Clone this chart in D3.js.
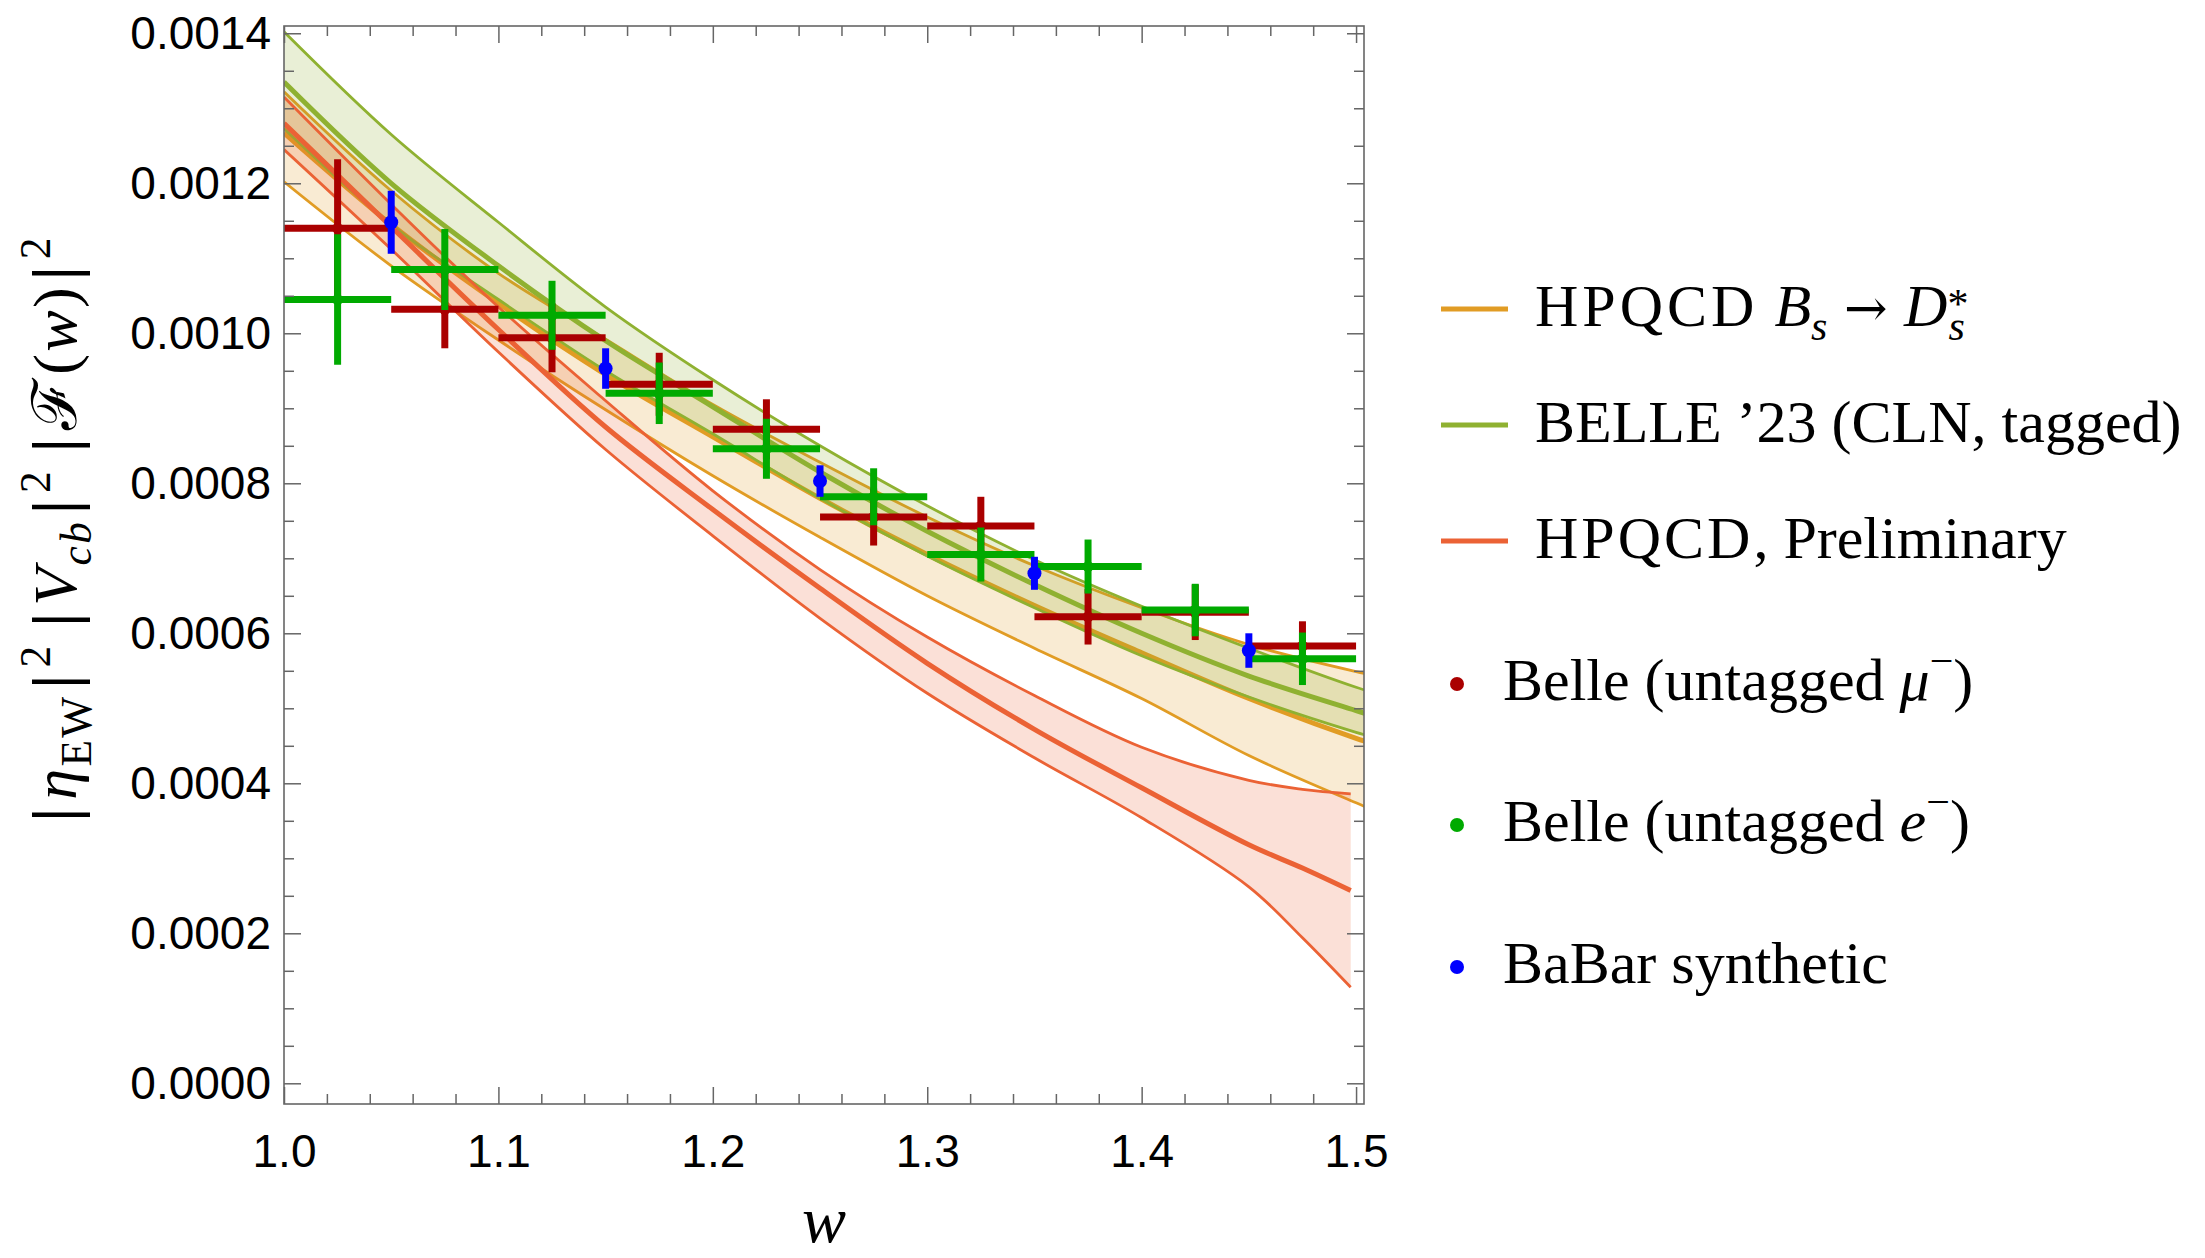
<!DOCTYPE html>
<html>
<head>
<meta charset="utf-8">
<script src="https://cdn.jsdelivr.net/npm/d3@7"></script>
<style>
  body { margin: 0; background: #fff; }
  svg { display: block; }
</style>
</head>
<body>
<div id="chart"></div>
<script>
// ---- band grids (w) and values ----
const bandW = [1.0, 1.05, 1.1, 1.15, 1.2, 1.25, 1.3, 1.35, 1.4, 1.45, 1.5, 1.51]

// HPQCD Bs -> Ds*
const hpqcdHi  = [0.001322, 0.001190, 0.001080, 0.000992, 0.000905, 0.000828, 0.000755, 0.000690, 0.000634, 0.000585, 0.000549, 0.000543]
const hpqcdMid = [0.001267, 0.001145, 0.001040, 0.000945, 0.000862, 0.000780, 0.000705, 0.000637, 0.000574, 0.000513, 0.000460, 0.000451]
const hpqcdLo  = [0.001202, 0.001090, 0.000991, 0.000898, 0.000810, 0.000728, 0.000650, 0.000580, 0.000513, 0.000437, 0.000374, 0.000362]

// BELLE '23 (CLN, tagged)
const belleHi  = [0.001402, 0.001265, 0.001148, 0.001035, 0.000938, 0.000850, 0.000770, 0.000698, 0.000636, 0.000580, 0.000528, 0.000519]
const belleMid = [0.001335, 0.001200, 0.001090, 0.000990, 0.000902, 0.000815, 0.000736, 0.000665, 0.000600, 0.000543, 0.000497, 0.000488]
const belleLo  = [0.001273, 0.001145, 0.001045, 0.000950, 0.000866, 0.000780, 0.000703, 0.000634, 0.000570, 0.000515, 0.000468, 0.000460]

// HPQCD, Preliminary
const prelimW   = [1.0, 1.05, 1.1, 1.15, 1.2, 1.25, 1.3, 1.35, 1.4, 1.45, 1.475, 1.4975]
const prelimHi  = [0.001315, 0.001172, 0.001035, 0.000910, 0.000790, 0.000685, 0.000595, 0.000517, 0.000448, 0.000404, 0.000392, 0.000386]
const prelimMid = [0.001280, 0.001142, 0.001005, 0.000875, 0.000765, 0.000660, 0.000560, 0.000472, 0.000394, 0.000318, 0.000287, 0.000257]
const prelimLo  = [0.001245, 0.001112, 0.000975, 0.000845, 0.000730, 0.000620, 0.000520, 0.000434, 0.000354, 0.000262, 0.000194, 0.000128]

// data points: bin centre, value, error
const muW   = [1.025, 1.075, 1.125, 1.175, 1.225, 1.275, 1.325, 1.375, 1.425, 1.475]
const muV   = [0.001140, 0.001032, 0.000994, 0.000932, 0.000872, 0.000755, 0.000743, 0.000622, 0.000628, 0.000583]
const muErr = [0.000092, 0.000052, 0.000046, 0.000042, 0.000040, 0.000038, 0.000039, 0.000037, 0.000037, 0.000033]

const eW   = [1.025, 1.075, 1.125, 1.175, 1.225, 1.275, 1.325, 1.375, 1.425, 1.475]
const eV   = [0.001045, 0.001085, 0.001024, 0.000920, 0.000846, 0.000782, 0.000705, 0.000689, 0.000631, 0.000566]
const eErr = [0.000087, 0.000054, 0.000046, 0.000041, 0.000040, 0.000038, 0.000036, 0.000036, 0.000035, 0.000035]

const babarW   = [1.05, 1.15, 1.25, 1.35, 1.45]
const babarV   = [0.001148, 0.000953, 0.000803, 0.000680, 0.000577]
const babarErr = [0.000042, 0.000027, 0.000021, 0.000022, 0.000023]

const BIN_HALF = 0.025

// ticks
const yMajor = [0, 0.0002, 0.0004, 0.0006, 0.0008, 0.0010, 0.0012, 0.0014]
const yTickLabels = ["0.0000", "0.0002", "0.0004", "0.0006", "0.0008", "0.0010", "0.0012", "0.0014"]
const xMajor = [1.0, 1.1, 1.2, 1.3, 1.4, 1.5]
const xTickLabels = ["1.0", "1.1", "1.2", "1.3", "1.4", "1.5"]

const COLORS = {hpqcd: "#E19C24", belle: "#8FB131", prelim: "#EB6235",
                mu: "#AA0000", e: "#00AA00", babar: "#0000FF"}

const WIDTH = 2205
const HEIGHT = 1258
const PLOT = {LEFT: 284, RIGHT: 1364, TOP: 26, BOTTOM: 1104}

const svg = d3.select("#chart")
  .append("svg")
  .attr("width", WIDTH)
  .attr("height", HEIGHT)
  .style("background", "#fff")

const x = d3.scaleLinear().domain([1.0, 1.5037]).range([PLOT.LEFT, PLOT.RIGHT])
const y = d3.scaleLinear().domain([-0.0000276, 0.0014097]).range([PLOT.BOTTOM, PLOT.TOP])

svg.append("clipPath").attr("id", "clip")
  .append("rect")
  .attr("x", PLOT.LEFT).attr("y", PLOT.TOP)
  .attr("width", PLOT.RIGHT - PLOT.LEFT)
  .attr("height", PLOT.BOTTOM - PLOT.TOP)

const plot = svg.append("g").attr("clip-path", "url(#clip)")

// bands: fill + 3 lines
function drawBand(ws, lo, mid, hi, color) {
  const pts = ws.map((w, i) => ({w: w, lo: lo[i], mid: mid[i], hi: hi[i]}))
  const area = d3.area()
    .x(d => x(d.w)).y0(d => y(d.lo)).y1(d => y(d.hi))
    .curve(d3.curveCatmullRom)
  plot.append("path").datum(pts)
    .attr("d", area)
    .attr("fill", color)
    .attr("fill-opacity", 0.2)
  const line = key => d3.line().x(d => x(d.w)).y(d => y(d[key])).curve(d3.curveCatmullRom)
  ;[["hi", 2.8], ["lo", 2.8], ["mid", 5]].forEach(([key, sw]) => {
    plot.append("path").datum(pts)
      .attr("d", line(key))
      .attr("fill", "none")
      .attr("stroke", color)
      .attr("stroke-width", sw)
  })
}

drawBand(bandW, hpqcdLo, hpqcdMid, hpqcdHi, COLORS.hpqcd)
drawBand(bandW, belleLo, belleMid, belleHi, COLORS.belle)
drawBand(prelimW, prelimLo, prelimMid, prelimHi, COLORS.prelim)

// error bar points
function drawPoints(ws, vs, errs, color, withBins, r) {
  const pts = ws.map((w, i) => ({w: w, v: vs[i], e: errs[i]}))
  const g = plot.append("g")
  if (withBins) {
    g.selectAll(".hbar").data(pts).enter().append("line")
      .attr("x1", d => x(d.w - BIN_HALF)).attr("x2", d => x(d.w + BIN_HALF))
      .attr("y1", d => y(d.v)).attr("y2", d => y(d.v))
      .attr("stroke", color).attr("stroke-width", 7)
  }
  g.selectAll(".vbar").data(pts).enter().append("line")
    .attr("x1", d => x(d.w)).attr("x2", d => x(d.w))
    .attr("y1", d => y(d.v - d.e)).attr("y2", d => y(d.v + d.e))
    .attr("stroke", color).attr("stroke-width", 7)
  g.selectAll("circle").data(pts).enter().append("circle")
    .attr("cx", d => x(d.w)).attr("cy", d => y(d.v))
    .attr("r", r).attr("fill", color)
}

drawPoints(muW, muV, muErr, COLORS.mu, true, 5.5)
drawPoints(eW, eV, eErr, COLORS.e, true, 5.5)
drawPoints(babarW, babarV, babarErr, COLORS.babar, false, 7)

// ---- frame and ticks ----
const TICK_COLOR = "#666"
const yMinor = d3.range(0, 0.00141, 0.00005).filter(v => Math.abs(v / 0.0002 - Math.round(v / 0.0002)) > 1e-6)
const xMinor = d3.range(1.0, 1.501, 0.02).filter(v => Math.abs(v / 0.1 - Math.round(v / 0.1)) > 1e-6)

function styleAxis(g) {
  g.select(".domain").remove()
  g.selectAll(".tick line").attr("stroke", TICK_COLOR).attr("stroke-width", 1.5)
  g.attr("font-family", "'Liberation Sans', Arial, sans-serif").attr("font-size", 46)
  g.selectAll(".tick text").attr("fill", "#000")
}

// left
svg.append("g").attr("transform", `translate(${PLOT.LEFT},0)`)
  .call(d3.axisLeft(y).tickValues(yMajor).tickFormat((d, i) => yTickLabels[i]).tickSize(-17).tickPadding(13))
  .call(styleAxis)
svg.append("g").attr("transform", `translate(${PLOT.LEFT},0)`)
  .call(d3.axisLeft(y).tickValues(yMinor).tickFormat("").tickSize(-10))
  .call(styleAxis)
// right
svg.append("g").attr("transform", `translate(${PLOT.RIGHT},0)`)
  .call(d3.axisRight(y).tickValues(yMajor).tickFormat("").tickSize(-17))
  .call(styleAxis)
svg.append("g").attr("transform", `translate(${PLOT.RIGHT},0)`)
  .call(d3.axisRight(y).tickValues(yMinor).tickFormat("").tickSize(-10))
  .call(styleAxis)
// bottom
svg.append("g").attr("transform", `translate(0,${PLOT.BOTTOM})`)
  .call(d3.axisBottom(x).tickValues(xMajor).tickFormat((d, i) => xTickLabels[i]).tickSize(-17).tickPadding(30))
  .call(styleAxis)
svg.append("g").attr("transform", `translate(0,${PLOT.BOTTOM})`)
  .call(d3.axisBottom(x).tickValues(xMinor).tickFormat("").tickSize(-10))
  .call(styleAxis)
// top
svg.append("g").attr("transform", `translate(0,${PLOT.TOP})`)
  .call(d3.axisTop(x).tickValues(xMajor).tickFormat("").tickSize(-17))
  .call(styleAxis)
svg.append("g").attr("transform", `translate(0,${PLOT.TOP})`)
  .call(d3.axisTop(x).tickValues(xMinor).tickFormat("").tickSize(-10))
  .call(styleAxis)

svg.append("rect")
  .attr("x", PLOT.LEFT).attr("y", PLOT.TOP)
  .attr("width", PLOT.RIGHT - PLOT.LEFT).attr("height", PLOT.BOTTOM - PLOT.TOP)
  .attr("fill", "none").attr("stroke", TICK_COLOR).attr("stroke-width", 1.6)

// ---- rich text helper (sub / superscripts) ----
function richText(sel, segs, size) {
  let cur = 0
  segs.forEach(s => {
    let target = 0
    if (s.sub) target = size * 0.24
    if (s.sup) target = s.raise !== undefined ? -s.raise : -size * 0.42
    const ts = sel.append("tspan").text(s.t).attr("dy", target - cur)
    cur = target
    if (s.sub || s.sup) ts.attr("font-size", size * 0.7)
    if (s.size) ts.attr("font-size", s.size)
    if (s.f) ts.attr("font-family", s.f)
    if (s.i) ts.attr("font-style", "italic")
    if (s.dx) ts.attr("dx", s.dx)
    if (s.ls) ts.style("letter-spacing", s.ls + "px")
  })
}

const SERIF = "'Liberation Serif', 'DejaVu Serif', serif"
const DV = "'DejaVu Serif', serif"

// x title
svg.append("text")
  .attr("x", (PLOT.LEFT + PLOT.RIGHT) / 2).attr("y", 1242)
  .attr("text-anchor", "middle")
  .attr("font-family", SERIF).attr("font-style", "italic").attr("font-size", 66)
  .text("w")

// y title
const yTitle = svg.append("text")
  .attr("transform", "translate(76,531) rotate(-90)")
  .attr("text-anchor", "middle")
  .attr("font-family", SERIF).attr("font-size", 62)
  .attr("textLength", 587).attr("lengthAdjust", "spacing")
richText(yTitle, [
  {t: "|", f: DV, size: 58}, {t: "η", i: true, dx: 3}, {t: "EW", sub: true}, {t: "|", f: DV, size: 58, dx: 3}, {t: "2", sup: true, dx: 2},
  {t: "|", f: DV, size: 58, dx: 14}, {t: "V", i: true, dx: 2}, {t: "cb", sub: true, i: true}, {t: "|", f: DV, size: 58, dx: 3}, {t: "2", sup: true, dx: 2},
  {t: "|", f: DV, size: 58, dx: 14}, {t: "ℱ", dx: 3}, {t: "(", dx: 2}, {t: "w", i: true}, {t: ")"}, {t: "|", f: DV, size: 58, dx: 2}, {t: "2", sup: true, dx: 2}
], 62)

// ---- legend ----
const LEG_SIZE = 60
const legendLines = [
  {color: COLORS.hpqcd, y: 309, segs: [{t: "HPQCD", ls: 4}, {t: "B", i: true, dx: 16}, {t: "s", sub: true, i: true},
    {t: " → ", f: DV, size: 52}, {t: "D", i: true}, {t: "*", sup: true, raise: 8}, {t: "s", sub: true, i: true, dx: -20}]},
  {color: COLORS.belle, y: 425, segs: [{t: "BELLE ’23 (CLN, tagged)"}]},
  {color: COLORS.prelim, y: 541, segs: [{t: "HPQCD", ls: 3}, {t: ", Preliminary"}]}
]
const legendDots = [
  {color: COLORS.mu, y: 684, segs: [{t: "Belle (untagged "}, {t: "μ", i: true}, {t: "−", sup: true}, {t: ")"}]},
  {color: COLORS.e, y: 825, segs: [{t: "Belle (untagged "}, {t: "e", i: true}, {t: "−", sup: true}, {t: ")"}]},
  {color: COLORS.babar, y: 967, segs: [{t: "BaBar synthetic"}]}
]

const leg = svg.append("g").attr("font-family", SERIF).attr("font-size", LEG_SIZE)
legendLines.forEach(d => {
  leg.append("line")
    .attr("x1", 1441).attr("x2", 1508).attr("y1", d.y).attr("y2", d.y)
    .attr("stroke", d.color).attr("stroke-width", 5)
  const t = leg.append("text").attr("x", 1535).attr("y", d.y + 17)
  richText(t, d.segs, LEG_SIZE)
})
legendDots.forEach(d => {
  leg.append("circle").attr("cx", 1457).attr("cy", d.y).attr("r", 7).attr("fill", d.color)
  const t = leg.append("text").attr("x", 1503).attr("y", d.y + 16)
  richText(t, d.segs, LEG_SIZE)
})
</script>
</body>
</html>
